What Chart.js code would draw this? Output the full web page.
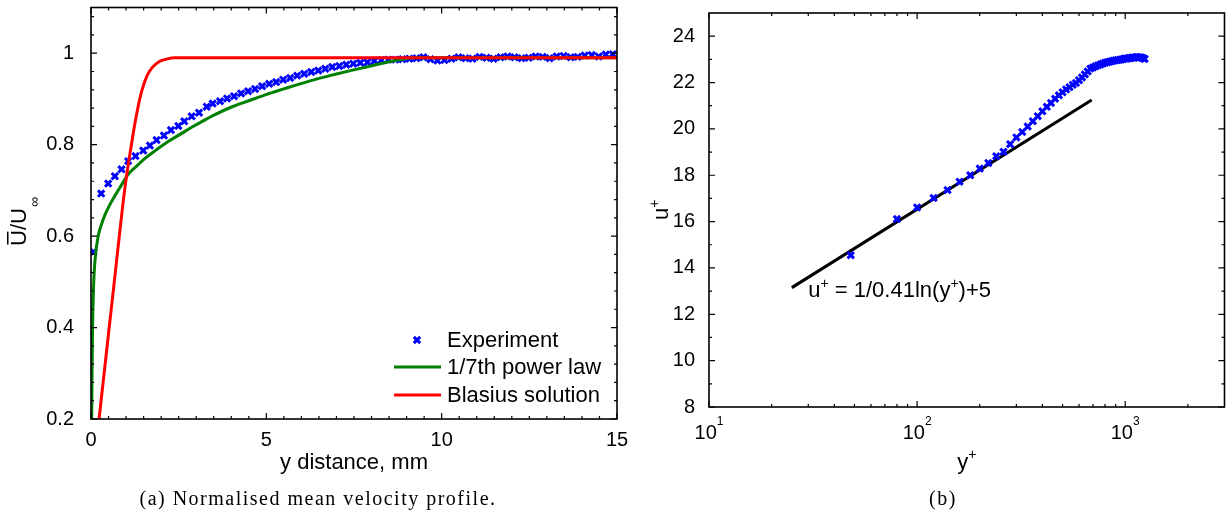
<!DOCTYPE html>
<html>
<head>
<meta charset="utf-8">
<script src="https://cdn.jsdelivr.net/npm/chart.js@4.4.1/dist/chart.umd.min.js"></script>
<style>
  html, body { margin: 0; padding: 0; background: #fff; }
  #wrap { position: relative; width: 1232px; height: 516px; overflow: hidden; }
  canvas { position: absolute; top: 0; }
  #chart-a { left: 0; }
  #chart-b { left: 640px; }
  .cap {
    position: absolute; top: 488px; height: 20px; line-height: 20px; text-align: center;
    font-family: "Liberation Serif", "Times New Roman", serif; font-size: 20px;
    letter-spacing: 1.5px; color: #000; white-space: nowrap;
  }
</style>
</head>
<body>
<div id="wrap">
  <canvas id="chart-a" width="630" height="516"></canvas>
  <canvas id="chart-b" width="592" height="516"></canvas>
  <div class="cap" style="left:0;width:636px">(a) Normalised mean velocity profile.</div>
  <div class="cap" style="left:650px;width:586px">(b)</div>
</div>
<script>
// ===================== fontes / cores =====================
const FONT = "'Liberation Sans', Arial, Helvetica, sans-serif";
const BLUE = "#0000ff";
const GREEN = "#008000";
const RED = "#ff0000";
const BLACK = "#000000";

// ===================== (a) perfil de velocidade =====================
// experimento: distancia y (mm) e U/Uinf
const EXP_Y_MM = [
  0.07, 0.29, 0.49, 0.68, 0.87, 1.06, 1.27, 1.49, 1.68, 1.87, 2.08, 2.28, 2.49, 2.66, 2.87, 3.08, 3.30, 3.47,
  3.68, 3.88, 4.08, 4.28, 4.48, 4.68, 4.88, 5.08, 5.28, 5.48,
  5.68, 5.88, 6.08, 6.28, 6.48, 6.68, 6.88, 7.08, 7.28, 7.48,
  7.68, 7.88, 8.08, 8.28, 8.48, 8.68, 8.88, 9.08, 9.28, 9.48,
  9.68, 9.88, 10.08, 10.28, 10.48, 10.68, 10.88, 11.08, 11.28, 11.48,
  11.68, 11.88, 12.08, 12.28, 12.48, 12.68, 12.88, 13.08, 13.28, 13.48,
  13.68, 13.88, 14.08, 14.28, 14.48, 14.68, 14.88
];
const EXP_U = [
  0.565, 0.693, 0.715, 0.731, 0.746, 0.764, 0.775, 0.787, 0.798, 0.810, 0.820, 0.832, 0.841, 0.851, 0.862, 0.870, 0.883, 0.890,
  0.895, 0.901, 0.906, 0.912, 0.917, 0.922, 0.928, 0.933, 0.937, 0.942,
  0.946, 0.951, 0.955, 0.959, 0.962, 0.966, 0.970, 0.972, 0.975, 0.977,
  0.979, 0.980, 0.983, 0.985, 0.986, 0.986, 0.987, 0.988, 0.989, 0.991,
  0.987, 0.984, 0.985, 0.988, 0.991, 0.989, 0.988, 0.992, 0.990, 0.988,
  0.991, 0.993, 0.991, 0.989, 0.990, 0.993, 0.992, 0.989, 0.993, 0.994,
  0.991, 0.992, 0.995, 0.996, 0.993, 0.997, 0.998
];

// lei de potencia 1/7
const POWER_Y_MM = [
  0.02, 0.03, 0.045, 0.065, 0.09, 0.13, 0.21, 0.3, 0.4, 0.52, 0.64, 0.8, 1.06, 1.3, 1.54, 1.85, 2.2, 2.55,
  2.87, 3.2, 3.49, 4.06, 4.5, 5.01, 5.5, 5.96, 6.45, 6.91, 7.4, 7.86, 8.25, 8.61, 8.9, 9.2, 15
];
const POWER_U = [
  0.2, 0.3, 0.4, 0.47, 0.52, 0.56, 0.602, 0.626, 0.647, 0.666, 0.683, 0.703, 0.735, 0.753, 0.77, 0.788, 0.807, 0.823,
  0.838, 0.852, 0.864, 0.884, 0.896, 0.91, 0.922, 0.933, 0.944, 0.953, 0.962, 0.97, 0.977, 0.983, 0.987, 0.99, 0.99
];

// solucao de Blasius
const BLASIUS_Y_MM = [0.23, 0.5, 0.75, 0.92, 1.02, 1.1, 1.2, 1.33, 1.45, 1.6, 1.75, 1.95, 2.15, 2.4, 2.7, 15];
const BLASIUS_U = [0.2, 0.387, 0.56, 0.677, 0.735, 0.775, 0.823, 0.878, 0.918, 0.951, 0.969, 0.982, 0.987, 0.99, 0.99, 0.99];

const A_LABELS = ["Experiment", "1/7th power law", "Blasius solution"];
const A_X_TITLE = "y distance, mm";
const A_Y_TITLE = ["U", "/U", "\u221E"]; // barra sobre o primeiro U, infinito subscrito
const A_X_TICKS = [0, 5, 10, 15];
const A_Y_TICKS = [0.2, 0.4, 0.6, 0.8, 1];

// ===================== (b) lei da parede =====================
const YPLUS = [
  48, 80, 100, 120, 140, 160, 180, 200, 220, 240, 260, 280, 300, 320, 340, 360, 380, 400, 420, 440,
  460, 480, 500, 520, 540, 560, 580, 600, 620, 640, 660, 680, 700, 720, 740, 760, 780, 800, 820, 840,
  860, 880, 900, 920, 940, 960, 980, 1000, 1020, 1040, 1060, 1080, 1100, 1120, 1140, 1160, 1180, 1200, 1220, 1240
];
const UPLUS = [
  14.55, 16.11, 16.61, 17.02, 17.36, 17.72, 18.0, 18.29, 18.53, 18.82, 19.01, 19.34, 19.63, 19.87, 20.1, 20.33, 20.55, 20.76, 20.95, 21.12,
  21.3, 21.45, 21.58, 21.7, 21.8, 21.9, 21.98, 22.1, 22.22, 22.35, 22.48, 22.6, 22.65, 22.7, 22.74, 22.78, 22.82, 22.85, 22.88, 22.9,
  22.92, 22.94, 22.96, 22.97, 22.98, 22.99, 23.02, 23.04, 23.03, 23.06, 23.05, 23.08, 23.07, 23.09, 23.1, 23.08, 23.09, 23.07, 23.05, 23.02
];

// reta log-law (extremos)
const LOGLAW_YPLUS = [25, 690];
const LOGLAW_UPLUS = [13.15, 21.25];

const B_NOTE = [["u", 0], ["+", 1], [" = 1/0.41ln(y", 0], ["+", 1], [")+5", 0]];
const B_NOTE_AT = { x: 30, y: 12.75 };
const B_X_TITLE = [["y", 0], ["+", 1]];
const B_Y_TITLE = [["u", 0], ["+", 1]];
const B_X_TICKS = [10, 100, 1000];
const B_Y_TICKS = [8, 10, 12, 14, 16, 18, 20, 22, 24];

// ------------------ helpers ------------------
const q = (id) => document.getElementById(id);
const pairs = (xs, ys) => xs.map((x, i) => ({ x, y: ys[i] }));
const fixedTicks = (vals) => (scale) => { scale.ticks = vals.map(v => ({ value: v })); };

// tamanho fixo do eixo, sem o padding extra que o Chart.js reserva p/ os rotulos
const fixX = (h) => (s) => { s.height = h; s.paddingLeft = 0; s.paddingRight = 0; };
const fixY = (w) => (s) => { s.width = w; s.paddingTop = 0; s.paddingBottom = 0; };

function steps(from, to, step) {
  const out = [];
  for (let v = from; v <= to + 1e-9; v += step) out.push(+v.toFixed(4));
  return out;
}

// texto com partes sobrescritas: parts = [[texto, 1 se sobrescrito], ...]
function drawRich(ctx, parts, x, y, size, supSize, rise, align) {
  const widths = parts.map(([t, sup]) => {
    ctx.font = `${sup ? supSize : size}px ${FONT}`;
    return ctx.measureText(t).width;
  });
  const total = widths.reduce((s, w) => s + w, 0);
  let cx = align === "center" ? x - total / 2 : x;
  ctx.textAlign = "left";
  ctx.textBaseline = "alphabetic";
  parts.forEach(([t, sup], i) => {
    ctx.font = `${sup ? supSize : size}px ${FONT}`;
    ctx.fillText(t, cx, sup ? y - rise : y);
    cx += widths[i];
  });
}

function drawCross(ctx, x, y, r, color, lw) {
  const o = r * Math.SQRT1_2;
  ctx.save();
  ctx.strokeStyle = color;
  ctx.lineWidth = lw;
  ctx.beginPath();
  ctx.moveTo(x - o, y - o); ctx.lineTo(x + o, y + o);
  ctx.moveTo(x + o, y - o); ctx.lineTo(x - o, y + o);
  ctx.stroke();
  ctx.restore();
}

// ------------------ moldura + ticks para dentro ------------------
function framePlugin(t) {
  return {
    id: "frame",
    afterDatasetsDraw(chart) {
      const { ctx, chartArea: a, scales: { x, y } } = chart;
      ctx.save();
      ctx.strokeStyle = BLACK;
      ctx.lineWidth = 1.2;
      ctx.beginPath();
      const mark = (vals, len, isX) => vals.forEach(v => {
        if (isX) {
          const p = x.getPixelForValue(v);
          ctx.moveTo(p, a.bottom); ctx.lineTo(p, a.bottom - len);
          ctx.moveTo(p, a.top); ctx.lineTo(p, a.top + len);
        } else {
          const p = y.getPixelForValue(v);
          ctx.moveTo(a.left, p); ctx.lineTo(a.left + len, p);
          ctx.moveTo(a.right, p); ctx.lineTo(a.right - len, p);
        }
      });
      mark(t.xMajor, 6, true);
      mark(t.xMinor, 3, true);
      mark(t.yMajor, 6, false);
      mark(t.yMinor, 3, false);
      ctx.stroke();
      ctx.lineWidth = 1.6;
      ctx.strokeRect(a.left, a.top, a.right - a.left, a.bottom - a.top);
      ctx.restore();
    }
  };
}

// ------------------ legenda (a) ------------------
const legendA = {
  id: "legendA",
  afterDraw(chart) {
    const { ctx, chartArea: a } = chart;
    const rows = [a.bottom - 79, a.bottom - 52, a.bottom - 24];
    ctx.save();
    chart.data.datasets.forEach((ds, i) => {
      const yy = rows[i];
      if (ds.showLine) {
        ctx.strokeStyle = ds.borderColor;
        ctx.lineWidth = 3;
        ctx.beginPath();
        ctx.moveTo(a.right - 223, yy); ctx.lineTo(a.right - 176, yy);
        ctx.stroke();
      } else {
        drawCross(ctx, a.right - 200, yy, ds.pointRadius, ds.pointBorderColor, ds.pointBorderWidth);
      }
      ctx.fillStyle = BLACK;
      ctx.font = `22px ${FONT}`;
      ctx.textAlign = "left";
      ctx.textBaseline = "middle";
      ctx.fillText(ds.label, a.right - 170, yy + 1);
    });
    ctx.restore();
  }
};

// ------------------ titulos (a) ------------------
const titlesA = {
  id: "titlesA",
  afterDraw(chart) {
    const { ctx, chartArea: a } = chart;
    ctx.save();
    ctx.fillStyle = BLACK;
    ctx.font = `22px ${FONT}`;
    ctx.textAlign = "center";
    ctx.textBaseline = "alphabetic";
    ctx.fillText(A_X_TITLE, (a.left + a.right) / 2, 469);

    // eixo y, girado
    ctx.translate(26, 246);
    ctx.rotate(-Math.PI / 2);
    ctx.textAlign = "left";
    ctx.fillText(A_Y_TITLE[0], 0, 0);
    const wU = ctx.measureText(A_Y_TITLE[0]).width;
    ctx.fillRect(1.5, -19, wU - 3, 1.5);
    ctx.fillText(A_Y_TITLE[1], wU, 0);
    const w = wU + ctx.measureText(A_Y_TITLE[1]).width;
    ctx.font = `14px ${FONT}`;
    ctx.fillText(A_Y_TITLE[2], w + 1, 13);
    ctx.restore();
  }
};

// ------------------ titulos, ticks log e nota (b) ------------------
const textB = {
  id: "textB",
  afterDraw(chart) {
    const { ctx, chartArea: a, scales: { x, y } } = chart;
    ctx.save();
    ctx.fillStyle = BLACK;

    B_X_TICKS.forEach(v => {
      const exp = String(Math.round(Math.log10(v)));
      drawRich(ctx, [["10", 0], [exp, 1]], x.getPixelForValue(v), 439, 20, 12, 14, "center");
    });

    drawRich(ctx, B_X_TITLE, (a.left + a.right) / 2, 469, 22, 14, 10, "center");

    drawRich(ctx, B_NOTE, x.getPixelForValue(B_NOTE_AT.x), y.getPixelForValue(B_NOTE_AT.y), 22, 14, 9, "left");

    ctx.translate(28, 220);
    ctx.rotate(-Math.PI / 2);
    drawRich(ctx, B_Y_TITLE, 0, 0, 22, 14, 9, "left");
    ctx.restore();
  }
};

const tickFont = { family: FONT, size: 20 };

// ------------------ grafico (a) ------------------
new Chart(q("chart-a"), {
  type: "scatter",
  data: {
    datasets: [
      {
        label: A_LABELS[0], data: pairs(EXP_Y_MM, EXP_U), showLine: false,
        pointStyle: "crossRot", pointRadius: 4.5, pointBorderWidth: 3,
        pointBorderColor: BLUE, borderColor: BLUE, backgroundColor: BLUE, order: 2
      },
      {
        label: A_LABELS[1], data: pairs(POWER_Y_MM, POWER_U), showLine: true,
        pointRadius: 0, borderColor: GREEN, borderWidth: 3, cubicInterpolationMode: "monotone", order: 1
      },
      {
        label: A_LABELS[2], data: pairs(BLASIUS_Y_MM, BLASIUS_U), showLine: true,
        pointRadius: 0, borderColor: RED, borderWidth: 3, cubicInterpolationMode: "monotone", order: 0
      }
    ]
  },
  options: {
    responsive: false,
    animation: false,
    layout: { padding: { top: 4, right: 13, left: 0, bottom: 0 } },
    plugins: { legend: { display: false }, tooltip: { enabled: false } },
    scales: {
      x: {
        type: "linear", min: 0, max: 15,
        grid: { display: false }, border: { display: false },
        afterBuildTicks: fixedTicks(A_X_TICKS),
        afterFit: fixX(97),
        ticks: { font: tickFont, color: BLACK, padding: 1, maxRotation: 0 }
      },
      y: {
        type: "linear", min: 0.2, max: 1.1,
        grid: { display: false }, border: { display: false },
        afterBuildTicks: fixedTicks(A_Y_TICKS),
        afterFit: fixY(91),
        ticks: { font: tickFont, color: BLACK, padding: 9, callback: (v) => String(v) }
      }
    }
  },
  plugins: [
    framePlugin({
      xMajor: A_X_TICKS, xMinor: steps(0, 15, 0.5),
      yMajor: A_Y_TICKS, yMinor: steps(0.2, 1.1, 0.04)
    }),
    legendA, titlesA
  ]
});

// ------------------ grafico (b) ------------------
new Chart(q("chart-b"), {
  type: "scatter",
  data: {
    datasets: [
      {
        label: "Experiment", data: pairs(YPLUS, UPLUS), showLine: false,
        pointStyle: "crossRot", pointRadius: 4.5, pointBorderWidth: 3,
        pointBorderColor: BLUE, borderColor: BLUE, backgroundColor: BLUE, order: 0
      },
      {
        label: "log law", data: pairs(LOGLAW_YPLUS, LOGLAW_UPLUS), showLine: true,
        pointRadius: 0, borderColor: BLACK, borderWidth: 3, order: 1
      }
    ]
  },
  options: {
    responsive: false,
    animation: false,
    layout: { padding: { top: 13, right: 6, left: 0, bottom: 0 } },
    plugins: { legend: { display: false }, tooltip: { enabled: false } },
    scales: {
      x: {
        type: "logarithmic", min: 10, max: 3000,
        grid: { display: false }, border: { display: false },
        afterFit: fixX(109),
        ticks: { display: false }
      },
      y: {
        type: "linear", min: 8, max: 25,
        grid: { display: false }, border: { display: false },
        afterBuildTicks: fixedTicks(B_Y_TICKS),
        afterFit: fixY(69),
        ticks: { font: tickFont, color: BLACK, padding: 6 }
      }
    }
  },
  plugins: [
    framePlugin({
      xMajor: B_X_TICKS,
      xMinor: [20, 30, 40, 50, 60, 70, 80, 90, 200, 300, 400, 500, 600, 700, 800, 900, 2000],
      yMajor: B_Y_TICKS, yMinor: steps(9, 23, 2)
    }),
    textB
  ]
});
</script>
</body>
</html>
